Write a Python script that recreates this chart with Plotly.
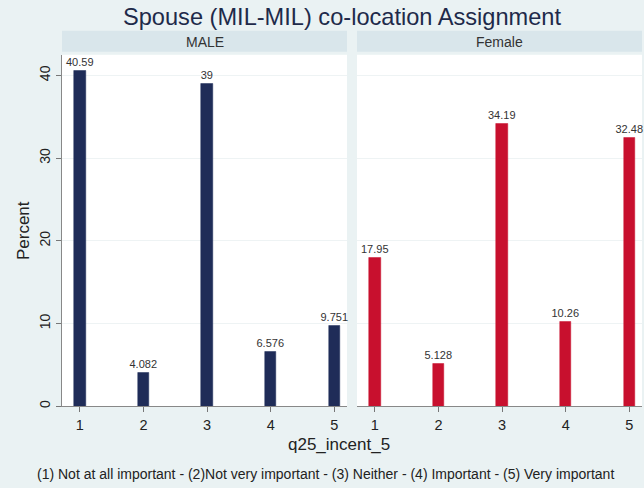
import plotly.graph_objects as go

categories = [1, 2, 3, 4, 5]
male_values = [40.59, 4.082, 39, 6.576, 9.751]
female_values = [17.95, 5.128, 34.19, 10.26, 32.48]
male_labels = ["40.59", "4.082", "39", "6.576", "9.751"]
female_labels = ["17.95", "5.128", "34.19", "10.26", "32.48"]
y_ticks = [0, 10, 20, 30, 40]
panel_titles = ["MALE", "Female"]
title_text = "Spouse (MIL-MIL) co-location Assignment"
x_title = "q25_incent_5"
y_title = "Percent"
note_text = "(1) Not at all important - (2)Not very important - (3) Neither - (4) Important - (5) Very important"

W, H = 644, 488
FONT = "Liberation Sans, Arial, sans-serif"
BG = "#EAF2F3"
STRIP = "#D9E6EB"
NAVY = "#1F2C58"
RED = "#C8102E"
TXT = "#222222"

def px_x(p):
    return p / W

def px_y(p):
    return 1 - p / H

left_dom = [px_x(62), px_x(347)]
right_dom = [px_x(357), px_x(642)]
y_dom = [px_y(408), px_y(55)]

fig = go.Figure()
fig.add_trace(go.Bar(
    x=categories, y=male_values, text=male_labels, textposition="outside",
    constraintext="none",
    marker=dict(color=NAVY, line=dict(color=NAVY, width=0.5)), width=0.18,
    textfont=dict(family=FONT, size=11, color="#333333"), cliponaxis=False,
    xaxis="x", yaxis="y", showlegend=False,
))
fig.add_trace(go.Bar(
    x=categories, y=female_values, text=female_labels, textposition="outside",
    constraintext="none",
    marker=dict(color=RED, line=dict(color=RED, width=0.5)), width=0.18,
    textfont=dict(family=FONT, size=11, color="#333333"), cliponaxis=False,
    xaxis="x2", yaxis="y2", showlegend=False,
))

xcommon = dict(
    range=[0.72, 5.2], tickvals=categories, ticks="outside", ticklen=5,
    tickcolor="#777777", showline=True, linecolor="#888888", linewidth=1,
    showgrid=False, zeroline=False,
    tickfont=dict(family=FONT, size=14.5, color=TXT),
)
ycommon = dict(
    range=[0, 42.5], tickvals=y_ticks, showgrid=True, gridcolor="#EEF3F4",
    gridwidth=1, zeroline=False,
)

fig.update_layout(
    width=W, height=H, margin=dict(l=0, r=0, t=0, b=0),
    paper_bgcolor=BG, plot_bgcolor="white", bargap=0,
    xaxis=dict(domain=left_dom, anchor="y", **xcommon),
    xaxis2=dict(domain=right_dom, anchor="y2", **xcommon),
    yaxis=dict(domain=y_dom, anchor="x", ticks="outside", ticklen=5,
               tickcolor="#777777", showline=True, linecolor="#888888",
               linewidth=1, tickangle=-90,
               tickfont=dict(family=FONT, size=14, color=TXT), **ycommon),
    yaxis2=dict(domain=y_dom, anchor="x2", showticklabels=False,
                showline=False, **ycommon),
    font=dict(family=FONT, color=TXT),
)

# panel header strips
for dom, label in zip([left_dom, right_dom], panel_titles):
    fig.add_shape(type="rect", xref="paper", yref="paper",
                  x0=dom[0], x1=dom[1], y0=px_y(52), y1=px_y(31),
                  fillcolor=STRIP, line=dict(width=0), layer="below")
    fig.add_annotation(text=label, xref="paper", yref="paper",
                       x=(dom[0] + dom[1]) / 2, y=px_y(42), showarrow=False,
                       xanchor="center", yanchor="middle",
                       font=dict(family=FONT, size=14, color="#333333"))

fig.add_annotation(text=title_text, xref="paper", yref="paper",
                   x=px_x(342), y=px_y(17), showarrow=False,
                   xanchor="center", yanchor="middle",
                   font=dict(family=FONT, size=23.6, color="#1E2A4A"))
fig.add_annotation(text=x_title, xref="paper", yref="paper",
                   x=px_x(339), y=px_y(446), showarrow=False,
                   xanchor="center", yanchor="middle",
                   font=dict(family=FONT, size=17, color=TXT))
fig.add_annotation(text=y_title, xref="paper", yref="paper",
                   x=px_x(23), y=px_y(232), showarrow=False, textangle=-90,
                   xanchor="center", yanchor="middle",
                   font=dict(family=FONT, size=17, color=TXT))
fig.add_annotation(text=note_text, xref="paper", yref="paper",
                   x=px_x(35), y=px_y(476), showarrow=False,
                   xanchor="left", yanchor="middle",
                   font=dict(family=FONT, size=14, color=TXT))

fig.write_html(
    "out.html",
    config={"displayModeBar": False},
    post_script="document.body.style.margin='0';document.body.style.overflow='hidden';",
)
